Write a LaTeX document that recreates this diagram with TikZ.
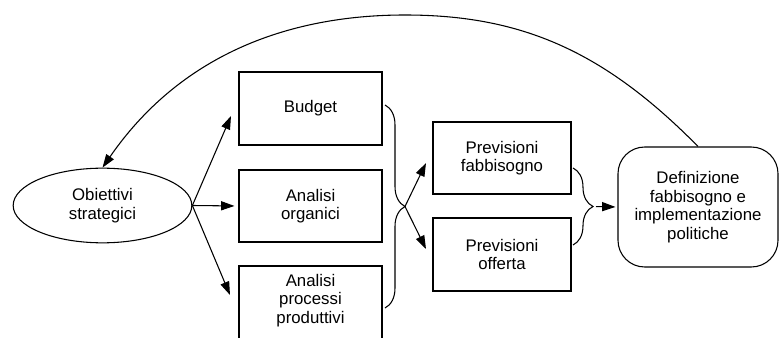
\documentclass[tikz,border=0pt]{standalone}
\usepackage{fontspec}
\setmainfont{Liberation Sans}
\usetikzlibrary{arrows.meta,shapes.geometric,decorations.pathreplacing}
\begin{document}
\begin{tikzpicture}[x=0.75pt,y=-0.75pt,
  line width=0.8pt,
  every node/.style={font=\fontsize{12.6}{14}\selectfont, align=center},
  box/.style={draw, rectangle, inner sep=0pt, minimum width=107.25pt},
  arr/.style={-{Triangle[length=10pt,width=6.8pt]}},
  brc/.style={decorate, decoration={brace, amplitude=15pt}}]
\useasboundingbox (0,0) rectangle (779,338);

% left: objectives
\node[draw, ellipse, inner sep=0pt, minimum width=134pt, minimum height=56pt] (obj) at (102.5,205.5) {Obiettivi\\strategici};

% analysis boxes
\node[box, minimum height=54.75pt] (bud) at (310.5,108.5) {Budget};
\node[box, minimum height=54pt] (org) at (310.5,206) {Analisi\\organici};
\node[box, minimum height=66pt] (proc) at (310.5,310) {};
\node (proctxt) at (310.5,300.5) {Analisi\\processi\\produttivi};

% forecast boxes
\node[box, minimum width=103.5pt, minimum height=54pt] (pf) at (502,158) {Previsioni\\fabbisogno};
\node[box, minimum width=103.5pt, minimum height=54.75pt] (po) at (502,254.5) {Previsioni\\offerta};

% result
\node[draw, rounded corners=20pt, inner sep=0pt, minimum width=120pt, minimum height=90pt] (def) at (698,207) {Definizione\\fabbisogno e\\implementazione\\politiche};

% arrow ends
\coordinate (budin) at (231,116);
\coordinate (procin) at (230,295);
\coordinate (b1) at (405,206.5);
\coordinate (b2) at (594,206.5);
\coordinate (pfin) at (426,163);
\coordinate (poin) at (426,249);

% objectives to analyses
\draw[arr] (obj.east) -- (budin);
\draw[arr, shorten >=3pt] (obj.east) -- (org.west);
\draw[arr] (obj.east) -- (procin);

% braces
\draw[brc] (385,105) -- (385,308);
\draw[brc] (573,168) -- (573,245);

% braces to next steps
\draw[arr] (b1) -- (pfin);
\draw[arr] (b1) -- (poin);
\draw[arr, shorten <=1.5pt, shorten >=1.5pt] (b2) -- (def.west);

% feedback loop
\draw[arr] (def.north) .. controls (604,51) and (521,15) .. (405,15)
  .. controls (285,15) and (179,57) .. (obj.north);
\end{tikzpicture}
\end{document}
